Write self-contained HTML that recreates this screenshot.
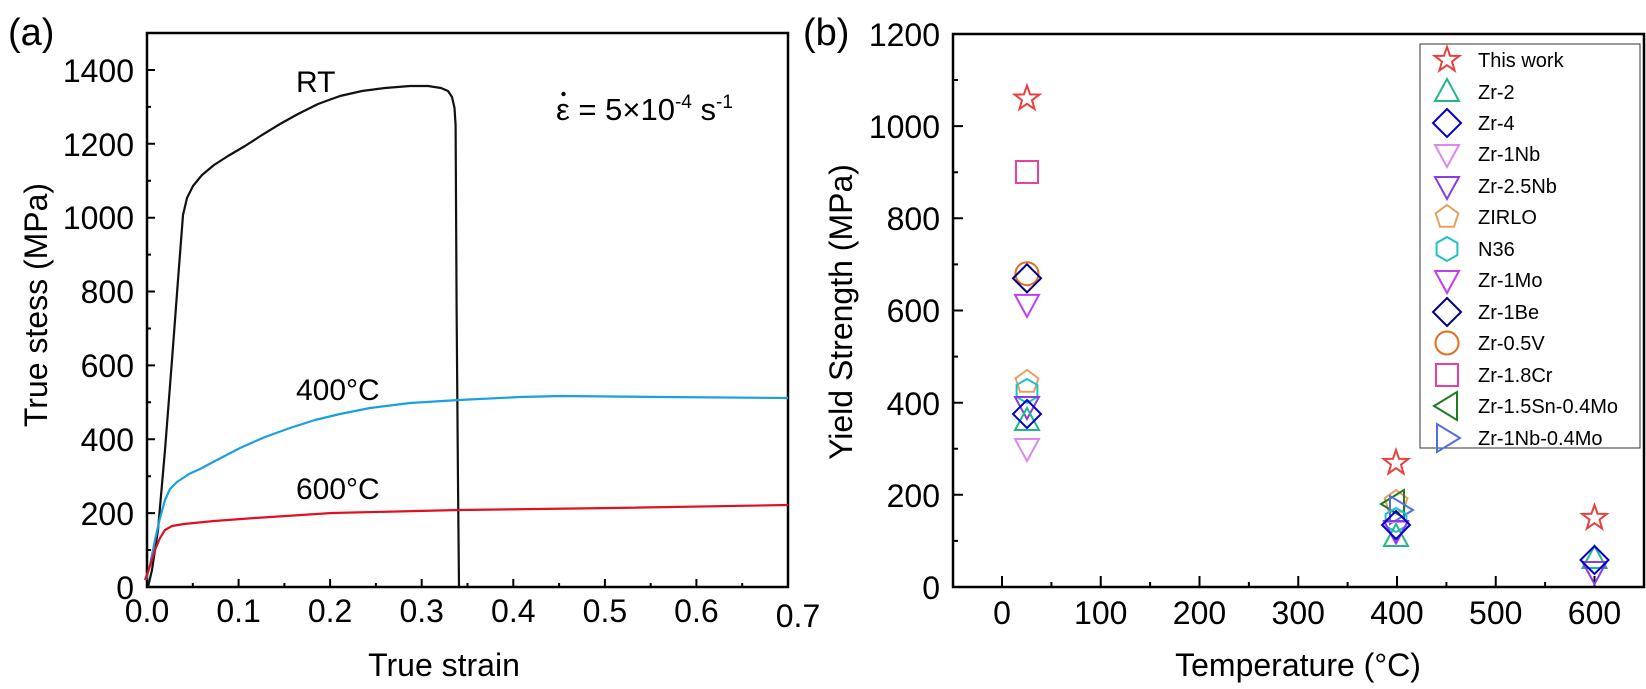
<!DOCTYPE html>
<html><head><meta charset="utf-8"><style>
html,body{margin:0;padding:0;background:#fff}
svg{display:block;font-family:"Liberation Sans",Arial,sans-serif}
</style></head><body>
<svg width="1646" height="689" viewBox="0 0 1646 689" xmlns="http://www.w3.org/2000/svg">
<defs>
<polygon id="star" points="0,-13 3.1,-4.2 12.4,-4 5,1.6 7.6,10.5 0,5.2 -7.6,10.5 -5,1.6 -12.4,-4 -3.1,-4.2" fill="none" stroke-width="2"/>
<polygon id="tup" points="0,-13 12,9 -12,9" fill="none" stroke-width="2"/>
<polygon id="dia" points="0,-14 14,0 0,14 -14,0" fill="none" stroke-width="2"/>
<polygon id="tdn" points="-12,-9 12,-9 0,13" fill="none" stroke-width="2"/>
<polygon id="pent" points="0,-12 11.4,-3.7 7,9.7 -7,9.7 -11.4,-3.7" fill="none" stroke-width="2"/>
<polygon id="hex" points="0,-12 10.4,-6 10.4,6 0,12 -10.4,6 -10.4,-6" fill="none" stroke-width="2"/>
<circle id="circ" r="11.5" fill="none" stroke-width="2"/>
<rect id="sq" x="-11" y="-11" width="22" height="22" fill="none" stroke-width="2"/>
<polygon id="tl" points="10,-14 10,14 -13,0" fill="none" stroke-width="2"/>
<polygon id="tr" points="-10,-14 -10,14 13,0" fill="none" stroke-width="2"/>
</defs>

<!-- Panel (a) -->
<text x="8" y="45" font-size="38">(a)</text>
<rect x="147" y="33" width="641" height="554" fill="none" stroke="#000" stroke-width="2.5"/>
<g stroke="#000" stroke-width="2">
<path d="M147,587v-8 M238.6,587v-8 M330.1,587v-8 M421.7,587v-8 M513.3,587v-8 M604.9,587v-8 M696.4,587v-8
M192.8,587v-4 M284.4,587v-4 M375.9,587v-4 M467.5,587v-4 M559.1,587v-4 M650.7,587v-4 M742.2,587v-4"/>
<path d="M147,513.1h8 M147,439.3h8 M147,365.4h8 M147,291.5h8 M147,217.7h8 M147,143.8h8 M147,70h8
M147,550h4 M147,476.2h4 M147,402.3h4 M147,328.5h4 M147,254.6h4 M147,180.7h4 M147,106.9h4"/>
</g>
<g font-size="32" text-anchor="end">
<text x="134" y="599">0</text><text x="134" y="525">200</text><text x="134" y="451">400</text>
<text x="134" y="377">600</text><text x="134" y="303">800</text><text x="134" y="229">1000</text>
<text x="134" y="156">1200</text><text x="134" y="82">1400</text>
</g>
<g font-size="32" text-anchor="middle">
<text x="147" y="622">0.0</text><text x="238.6" y="622">0.1</text><text x="330.1" y="622">0.2</text>
<text x="421.7" y="622">0.3</text><text x="513.3" y="622">0.4</text><text x="604.9" y="622">0.5</text>
<text x="696.4" y="622">0.6</text><text x="798" y="627">0.7</text>
<text x="444" y="676">True strain</text>
</g>
<text transform="translate(47,305) rotate(-90)" font-size="32" text-anchor="middle">True stess (MPa)</text>

<polyline fill="none" stroke="#111" stroke-width="2.2" stroke-linejoin="round" points="148,587 152,570 158,530 165,450 172,360 178,280 183,215 187,198 193,186 202,175 214,165 228,156 245,146 262,135 280,124 298,114 318,104 340,96 362,91 385,88 410,86 428,86 441,88 448,91 452,97 454.5,108 455.6,125 456.6,308 458,483 459,587"/>
<polyline fill="none" stroke="#1aa0e0" stroke-width="2.2" stroke-linejoin="round" points="146,580 150,565 155,540 160,518 165,500 170,489 177,482 189,474 200,469 215,461 240,448 265,437 290,428 315,420 340,414 370,408 410,403 459,400 520,397 561,396 663,397 788,398"/>
<polyline fill="none" stroke="#e01020" stroke-width="2.2" stroke-linejoin="round" points="145,580 150,566 155,550 160,538 165,530 172,526 184,524 214,521 255,518 332,513 459,510 612,508 788,505"/>

<g font-size="30">
<text x="296" y="92">RT</text>
<text x="296" y="400">400°C</text>
<text x="296" y="499">600°C</text>
</g>
<text x="556" y="120" font-size="31">ε = 5×10<tspan dy="-12" font-size="19">-4</tspan><tspan dy="12"> s</tspan><tspan dy="-12" font-size="19">-1</tspan></text>
<circle cx="563.5" cy="94" r="2.2" fill="#000"/>

<!-- Panel (b) -->
<text x="803" y="45" font-size="38">(b)</text>
<rect x="953" y="34" width="691" height="553" fill="none" stroke="#000" stroke-width="2.5"/>
<g stroke="#000" stroke-width="2">
<path d="M1002,587v-11 M1100.75,587v-11 M1199.5,587v-11 M1298.25,587v-11 M1397,587v-11 M1495.75,587v-11 M1594.5,587v-11
M1051.4,587v-5 M1150.1,587v-5 M1248.9,587v-5 M1347.6,587v-5 M1446.4,587v-5 M1545.1,587v-5"/>
<path d="M953,494.8h10 M953,402.7h10 M953,310.5h10 M953,218.3h10 M953,126.1h10
M953,540.9h5 M953,448.7h5 M953,356.6h5 M953,264.4h5 M953,172.2h5 M953,80h5"/>
</g>
<g font-size="32" text-anchor="end">
<text x="940" y="599">0</text><text x="940" y="507">200</text><text x="940" y="415">400</text>
<text x="940" y="322">600</text><text x="940" y="230">800</text><text x="940" y="138">1000</text>
<text x="940" y="46">1200</text>
</g>
<g font-size="32" text-anchor="middle">
<text x="1002" y="624">0</text><text x="1100.75" y="624">100</text><text x="1199.5" y="624">200</text>
<text x="1298.25" y="624">300</text><text x="1397" y="624">400</text><text x="1495.75" y="624">500</text>
<text x="1594.5" y="624">600</text>
<text x="1298" y="676">Temperature (°C)</text>
</g>
<text transform="translate(852,312) rotate(-90)" font-size="32" text-anchor="middle">Yield Strength (MPa)</text>

<use href="#star" x="1027" y="98.6" stroke="#e8403f"/>
<use href="#sq" x="1027" y="172" stroke="#e8409f"/>
<use href="#circ" x="1027" y="273.7" stroke="#e07020"/>
<use href="#dia" x="1027" y="278.3" stroke="#000080"/>
<use href="#tdn" x="1027" y="303.9" stroke="#c040f0"/>
<use href="#pent" x="1027" y="382" stroke="#e8a060"/>
<use href="#hex" x="1027" y="391" stroke="#20c0c8"/>
<use href="#tdn" x="1027" y="406" stroke="#8a3de0"/>
<use href="#tup" x="1027" y="421" stroke="#20b98a"/>
<use href="#dia" x="1027" y="414" stroke="#0000cc"/>
<use href="#tdn" x="1027" y="448" stroke="#dd88ee"/>
<use href="#star" x="1396" y="463" stroke="#e8403f"/>
<use href="#pent" x="1396" y="502" stroke="#e8a060"/>
<use href="#tl" x="1394" y="504" stroke="#207a20"/>
<use href="#tr" x="1400" y="510" stroke="#5070e0"/>
<use href="#hex" x="1396" y="520" stroke="#20c0c8"/>
<use href="#tup" x="1396" y="537" stroke="#20b98a"/>
<use href="#tdn" x="1396" y="531" stroke="#dd88ee"/>
<use href="#tdn" x="1396" y="530" stroke="#8a3de0"/>
<use href="#dia" x="1396" y="525" stroke="#0000cc"/>
<use href="#star" x="1594.5" y="518" stroke="#e8403f"/>
<use href="#tup" x="1594.5" y="559" stroke="#20b98a"/>
<use href="#tdn" x="1594.5" y="571" stroke="#8a3de0"/>
<use href="#dia" x="1594.5" y="560" stroke="#0000cc"/>

<rect x="1420" y="44" width="220" height="404" fill="#fff" stroke="#333" stroke-width="1"/>
<g>
<use href="#star" x="1447" y="60" stroke="#e8403f"/>
<use href="#tup" x="1447" y="92" stroke="#20b98a"/>
<use href="#dia" x="1447" y="123" stroke="#0000cc"/>
<use href="#tdn" x="1447" y="154" stroke="#dd88ee"/>
<use href="#tdn" x="1447" y="186" stroke="#8a3de0"/>
<use href="#pent" x="1447" y="217" stroke="#e8a060"/>
<use href="#hex" x="1447" y="249" stroke="#20c0c8"/>
<use href="#tdn" x="1447" y="280" stroke="#c040f0"/>
<use href="#dia" x="1447" y="312" stroke="#000080"/>
<use href="#circ" x="1447" y="343" stroke="#e07020"/>
<use href="#sq" x="1447" y="375" stroke="#e8409f"/>
<use href="#tl" x="1447" y="406" stroke="#207a20"/>
<use href="#tr" x="1447" y="438" stroke="#5070e0"/>
</g>
<g font-size="20">
<text x="1478" y="67">This work</text>
<text x="1478" y="99">Zr-2</text>
<text x="1478" y="130">Zr-4</text>
<text x="1478" y="161">Zr-1Nb</text>
<text x="1478" y="193">Zr-2.5Nb</text>
<text x="1478" y="224">ZIRLO</text>
<text x="1478" y="256">N36</text>
<text x="1478" y="287">Zr-1Mo</text>
<text x="1478" y="319">Zr-1Be</text>
<text x="1478" y="350">Zr-0.5V</text>
<text x="1478" y="382">Zr-1.8Cr</text>
<text x="1478" y="413">Zr-1.5Sn-0.4Mo</text>
<text x="1478" y="445">Zr-1Nb-0.4Mo</text>
</g>
</svg>
</body></html>
